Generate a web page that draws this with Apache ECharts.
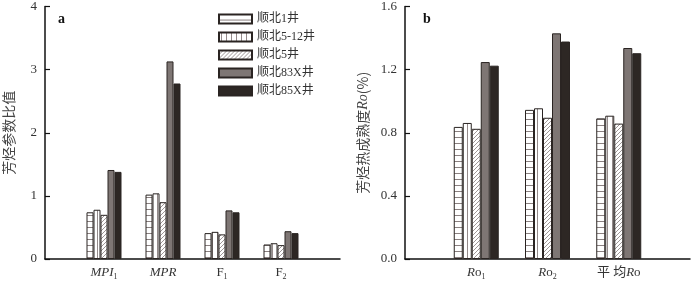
<!DOCTYPE html>
<html><head><meta charset="utf-8">
<script src="https://cdn.jsdelivr.net/npm/echarts@6/dist/echarts.min.js"></script>
<style>html,body{margin:0;padding:0;background:#fff}#c{width:700px;height:281px}</style>
</head><body><div id="c"></div>
<script>
const wells = ['顺北1井', '顺北5-12井', '顺北5井', '顺北83X井', '顺北85X井'];
const catsA = ['', 'MPI1', 'MPR', 'F1', 'F2', ''];
const catsB = ['', 'Ro1', 'Ro2', '平均Ro', ''];
const ticksA = [0, 1, 2, 3, 4];
const ticksB = [0.0, 0.4, 0.8, 1.2, 1.6];
// panel a values per well
const a_sb1   = [null, 0.74, 1.02, 0.41, 0.23, null];
const a_sb512 = [null, 0.78, 1.04, 0.43, 0.25, null];
const a_sb5   = [null, 0.70, 0.90, 0.39, 0.22, null];
const a_sb83  = [null, 1.41, 3.13, 0.77, 0.44, null];
const a_sb85  = [null, 1.38, 2.78, 0.74, 0.41, null];
// panel b values per well
const b_sb1   = [null, 0.837, 0.945, 0.891, null];
const b_sb512 = [null, 0.862, 0.955, 0.908, null];
const b_sb5   = [null, 0.825, 0.895, 0.858, null];
const b_sb83  = [null, 1.248, 1.430, 1.337, null];
const b_sb85  = [null, 1.225, 1.378, 1.304, null];

function pat(w, h, draw) {
  const c = document.createElement('canvas'); c.width = w; c.height = h;
  const g = c.getContext('2d'); g.fillStyle = '#fff'; g.fillRect(0, 0, w, h);
  draw(g); return { image: c, repeat: 'repeat' };
}
const pH = pat(8, 6, g => { g.fillStyle = '#8a8080'; g.fillRect(0, 5, 8, 1); });
const pV = pat(5, 8, g => { g.fillStyle = '#948a8a'; g.fillRect(2, 0, 1, 8); });
const pD = pat(4, 4, g => { g.strokeStyle = '#857b7b'; g.lineWidth = 0.8; g.beginPath(); g.moveTo(-1, 5); g.lineTo(5, -1); g.stroke(); });
const fills = [pH, pV, pD, '#7e7674', '#2d2724'];
const serif = 'Liberation Serif, Noto Sans CJK SC';

const rich = {
  i: { fontFamily: serif, fontStyle: 'italic', fontSize: 13, color: '#333', lineHeight: 16 },
  n: { fontFamily: serif, fontSize: 13, color: '#333', lineHeight: 16 },
  s: { fontFamily: serif, fontSize: 8, color: '#333', verticalAlign: 'bottom', lineHeight: 16 }
};
const labMap = {
  'MPI1': '{i|MPI}{s|1}', 'MPR': '{i|MPR}', 'F1': '{n|F}{s|1}', 'F2': '{n|F}{s|2}',
  'Ro1': '{i|R}{n|o}{s|1}', 'Ro2': '{i|R}{n|o}{s|2}', '平均Ro': '{n|平 均}{i|R}{n|o}'
};

function xAx(idx, cats, max) {
  const o = {
    type: 'category', gridIndex: idx, data: cats, boundaryGap: false,
    axisLine: { lineStyle: { color: '#111', width: 1.5 } },
    axisTick: { show: false },
    axisLabel: { interval: 0, margin: 6, formatter: v => labMap[v] || '', rich: rich }
  };
  if (max !== undefined) o.max = max;
  return o;
}
function yAx(idx, min, max, interval, name, fmt, nameGap) {
  return {
    type: 'value', gridIndex: idx, min: min, max: max, interval: interval,
    splitLine: { show: false },
    axisLine: { show: true, lineStyle: { color: '#111', width: 1.5 } },
    axisTick: { show: true, inside: true, length: 5, lineStyle: { color: '#111', width: 1.2 } },
    axisLabel: { fontFamily: serif, fontSize: 13, color: '#333', margin: 8, formatter: fmt },
    name: name, nameLocation: 'middle', nameGap: nameGap,
    nameTextStyle: { fontFamily: 'Noto Sans CJK SC', fontSize: 14, color: '#444', rich: {
      i: { fontFamily: serif, fontStyle: 'italic', fontSize: 14, color: '#444' } } }
  };
}

const dataA = [a_sb1, a_sb512, a_sb5, a_sb83, a_sb85];
const dataB = [b_sb1, b_sb512, b_sb5, b_sb83, b_sb85];
const series = [];
wells.forEach((w, k) => {
  const st = { color: fills[k], borderColor: '#2a2422', borderWidth: 1 };
  series.push({ type: 'bar', name: w, xAxisIndex: 0, yAxisIndex: 0, data: dataA[k], barWidth: 7, barGap: '0%', itemStyle: st, emphasis: { disabled: true } });
  series.push({ type: 'bar', name: w, xAxisIndex: 1, yAxisIndex: 1, data: dataB[k], barWidth: 9, barGap: '0%', itemStyle: st, emphasis: { disabled: true } });
});

const chart = echarts.init(document.getElementById('c'), null, { renderer: 'canvas' });
chart.setOption({
  animation: false,
  backgroundColor: '#fff',
  title: [
    { text: 'a', left: 53, top: 7, textStyle: { fontFamily: serif, fontWeight: 'bold', fontSize: 14, color: '#111' } },
    { text: 'b', left: 418, top: 7, textStyle: { fontFamily: serif, fontWeight: 'bold', fontSize: 14, color: '#111' } }
  ],
  legend: {
    data: wells, orient: 'vertical', left: 213, top: 8, itemWidth: 33, itemHeight: 9, itemGap: 6,
    icon: 'rect', textStyle: { fontFamily: serif, fontSize: 12, color: '#333' }
  },
  grid: [
    { left: 45, top: 5, width: 295, height: 257 },
    { left: 405, top: 5, width: 285, height: 257 }
  ],
  xAxis: [xAx(0, catsA), xAx(1, catsB, 3.88)],
  yAxis: [
    yAx(0, ticksA[0], ticksA[4], 1, '芳烃参数比值', v => String(v), 29),
    yAx(1, ticksB[0], ticksB[4], 0.4, '芳烃热成熟度{i|Ro}(%)', v => v.toFixed(1), 35)
  ],
  series: series
});
</script></body></html>
